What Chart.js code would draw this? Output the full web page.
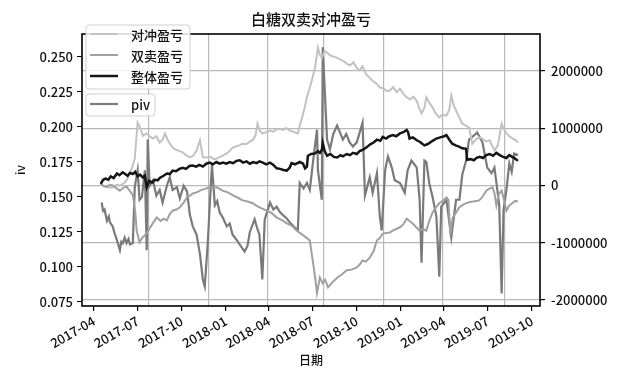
<!DOCTYPE html>
<html>
<head>
<meta charset="utf-8">
<script src="https://cdn.jsdelivr.net/npm/chart.js@4.4.1/dist/chart.umd.min.js"></script>
<style>
  html, body { margin: 0; padding: 0; background: #fff; }
</style>
</head>
<body>
<canvas id="myChart" width="620" height="376"></canvas>
<script>
// 对冲盈亏 (right axis)
const hedgeDates = ['2017-04-15','2017-04-22','2017-04-28','2017-05-04','2017-05-10','2017-05-18','2017-05-25','2017-06-04','2017-06-10','2017-06-15',
  '2017-06-20','2017-06-25','2017-07-01','2017-07-05','2017-07-09','2017-07-12','2017-07-20','2017-07-26','2017-08-02','2017-08-09',
  '2017-08-16','2017-08-22','2017-08-27','2017-09-02','2017-09-12','2017-09-20','2017-09-27','2017-10-03','2017-10-10','2017-10-18',
  '2017-10-25','2017-11-01','2017-11-08','2017-11-14','2017-11-22','2017-11-30','2017-12-07','2017-12-13','2017-12-20','2017-12-27',
  '2018-01-03','2018-01-09','2018-01-15','2018-01-22','2018-01-29','2018-02-05','2018-02-12','2018-02-19','2018-02-26','2018-03-04',
  '2018-03-08','2018-03-13','2018-03-18','2018-03-26','2018-04-03','2018-04-10','2018-04-16','2018-04-23','2018-04-30','2018-05-07',
  '2018-05-14','2018-05-21','2018-05-31','2018-06-09','2018-06-14','2018-06-19','2018-06-24','2018-06-29','2018-07-06','2018-07-12',
  '2018-07-16','2018-07-20','2018-07-26','2018-07-31','2018-08-07','2018-08-14','2018-08-21','2018-08-28','2018-09-04','2018-09-10',
  '2018-09-17','2018-09-24','2018-10-01','2018-10-07','2018-10-13','2018-10-20','2018-10-28','2018-11-04','2018-11-11','2018-11-18',
  '2018-11-25','2018-12-02','2018-12-09','2018-12-16','2018-12-23','2018-12-30',
  '2019-01-06','2019-01-13','2019-01-20','2019-01-27','2019-02-03','2019-02-08','2019-02-13','2019-02-19','2019-02-23','2019-03-01',
  '2019-03-08','2019-03-15','2019-03-22','2019-03-29','2019-04-06','2019-04-12','2019-04-16','2019-04-21','2019-04-26','2019-05-02',
  '2019-05-09','2019-05-16','2019-05-23','2019-05-30','2019-06-06','2019-06-13','2019-06-20','2019-06-27','2019-07-05','2019-07-10',
  '2019-07-15','2019-07-22','2019-07-30','2019-08-04','2019-08-09','2019-08-15','2019-08-22','2019-08-29','2019-09-02'];
const hedgeVals = [30000,-20000,0,-40000,-30000,10000,0,50000,120000,210000,
  330000,470000,1100000,1030000,940000,870000,910000,860000,820000,860000,
  750000,800000,910000,790000,660000,620000,600000,580000,530000,490000,
  520000,610000,790000,490000,490000,500000,460000,470000,500000,530000,
  560000,600000,660000,680000,700000,730000,720000,760000,790000,880000,
  1080000,950000,910000,930000,960000,940000,980000,990000,970000,1000000,
  960000,940000,910000,1190000,1350000,1540000,1680000,1830000,2060000,2410000,
  2280000,2230000,2350000,2320000,2270000,2250000,2230000,2200000,2170000,2130000,
  2100000,2150000,2050000,2010000,2080000,1950000,1880000,1820000,1780000,1710000,
  1700000,1650000,1660000,1720000,1630000,1690000,
  1600000,1540000,1500000,1550000,1480000,1350000,1260000,1360000,1540000,1450000,
  1360000,1250000,1190000,1240000,1220000,1330000,1570000,1400000,1310000,1200000,
  1080000,1050000,1010000,730000,800000,840000,820000,770000,790000,700000,
  610000,700000,1080000,980000,910000,860000,820000,790000,750000];

// 双卖盈亏 (right axis)
const shortDates = ['2017-04-15','2017-04-22','2017-04-28','2017-05-04','2017-05-10','2017-05-18','2017-05-25','2017-06-01','2017-06-08','2017-06-15',
  '2017-06-21','2017-06-26','2017-06-29','2017-07-05','2017-07-10','2017-07-16','2017-07-21','2017-07-26','2017-08-03','2017-08-10',
  '2017-08-18','2017-08-24','2017-08-31','2017-09-06','2017-09-12','2017-09-20','2017-09-27','2017-10-05','2017-10-12','2017-10-18',
  '2017-10-24','2017-11-01','2017-11-08','2017-11-18','2017-11-28','2017-12-06','2017-12-13','2017-12-19','2017-12-25',
  '2018-01-05','2018-01-15','2018-01-25','2018-02-05','2018-02-15','2018-02-26','2018-03-07','2018-03-17','2018-03-27','2018-04-06',
  '2018-04-17','2018-04-27','2018-05-08','2018-05-18','2018-05-29','2018-06-08','2018-06-19','2018-06-25','2018-07-02','2018-07-06',
  '2018-07-10','2018-07-16','2018-07-22','2018-07-27','2018-08-02','2018-08-10','2018-08-21','2018-08-30','2018-09-10','2018-09-20',
  '2018-10-01','2018-10-07','2018-10-13','2018-10-20','2018-10-28','2018-11-05','2018-11-12','2018-11-18','2018-11-24','2018-12-02',
  '2018-12-09','2018-12-15','2018-12-22','2018-12-30',
  '2019-01-06','2019-01-13','2019-01-19','2019-01-25','2019-02-01','2019-02-09','2019-02-16','2019-02-23','2019-03-01','2019-03-08',
  '2019-03-15','2019-03-22','2019-03-29','2019-04-06','2019-04-10','2019-04-14','2019-04-19','2019-04-26','2019-05-03','2019-05-10',
  '2019-05-17','2019-05-25','2019-06-01','2019-06-13','2019-06-20','2019-06-28','2019-07-04','2019-07-11','2019-07-15','2019-07-19',
  '2019-07-24','2019-07-30','2019-08-04','2019-08-09','2019-08-15','2019-08-21','2019-08-27','2019-09-02'];
const shortVals = [30000,-10000,-30000,10000,0,-50000,-90000,-40000,-20000,-100000,
  -170000,-450000,-790000,-990000,-920000,-870000,-820000,-750000,-640000,-560000,
  -620000,-580000,-610000,-500000,-440000,-420000,-380000,-300000,-210000,-180000,
  -140000,-120000,-90000,-60000,-30000,-40000,-30000,-60000,-90000,
  -120000,-170000,-210000,-260000,-280000,-310000,-360000,-400000,-440000,-480000,
  -560000,-600000,-660000,-700000,-790000,-850000,-920000,-960000,-1360000,-1600000,
  -1880000,-1610000,-1710000,-1650000,-1780000,-1700000,-1610000,-1560000,-1480000,-1470000,
  -1430000,-1380000,-1310000,-1330000,-1260000,-1150000,-960000,-920000,-840000,-830000,
  -820000,-790000,-760000,-730000,
  -680000,-580000,-620000,-660000,-720000,-790000,-760000,-790000,-620000,-470000,
  -380000,-310000,-270000,-210000,-250000,-870000,-560000,-470000,-380000,-340000,
  -310000,-290000,-280000,-260000,-200000,-90000,-60000,-30000,-130000,-350000,
  -150000,-90000,-250000,-440000,-350000,-310000,-270000,-280000];

// 整体盈亏 (right axis)
const totalDates = ['2017-04-15','2017-04-20','2017-04-25','2017-05-01','2017-05-06','2017-05-12','2017-05-19','2017-05-24','2017-05-31','2017-06-05',
  '2017-06-10','2017-06-15','2017-06-21','2017-06-26','2017-07-01','2017-07-06','2017-07-12','2017-07-16','2017-07-20','2017-07-25',
  '2017-07-31','2017-08-06','2017-08-12','2017-08-16','2017-08-24','2017-08-31','2017-09-06','2017-09-12','2017-09-19','2017-09-26',
  '2017-10-03','2017-10-10','2017-10-17','2017-10-24','2017-10-31','2017-11-07','2017-11-14','2017-11-21','2017-11-28','2017-12-05',
  '2017-12-12','2017-12-19','2017-12-26',
  '2018-01-02','2018-01-09','2018-01-16','2018-01-23','2018-01-30','2018-02-06','2018-02-13','2018-02-20','2018-02-27','2018-03-06',
  '2018-03-12','2018-03-19','2018-03-26','2018-04-03','2018-04-10','2018-04-17','2018-04-24','2018-05-01','2018-05-08','2018-05-14',
  '2018-05-18','2018-05-25','2018-06-04','2018-06-11','2018-06-15','2018-06-19','2018-06-21','2018-06-28','2018-07-06','2018-07-12',
  '2018-07-16','2018-07-20','2018-07-22','2018-07-26','2018-07-31','2018-08-07','2018-08-14','2018-08-21','2018-08-28','2018-09-02',
  '2018-09-10','2018-09-17','2018-09-23','2018-10-01','2018-10-07','2018-10-15','2018-10-22','2018-10-29','2018-11-05','2018-11-12',
  '2018-11-19','2018-11-24','2018-12-01','2018-12-08','2018-12-15','2018-12-22','2018-12-30',
  '2019-01-06','2019-01-13','2019-01-16','2019-01-19','2019-01-26','2019-02-03','2019-02-10','2019-02-19','2019-02-25','2019-03-01',
  '2019-03-08','2019-03-16','2019-03-24','2019-04-01','2019-04-06','2019-04-12','2019-04-18','2019-04-25','2019-05-02','2019-05-09',
  '2019-05-17','2019-05-19','2019-05-26','2019-06-02','2019-06-07','2019-06-14','2019-06-21','2019-06-28','2019-07-05','2019-07-12',
  '2019-07-19','2019-07-26','2019-08-02','2019-08-09','2019-08-15','2019-08-21','2019-08-27','2019-09-02'];
const totalVals = [30000,100000,120000,100000,160000,130000,210000,180000,230000,200000,
  170000,220000,200000,240000,160000,190000,140000,170000,-30000,80000,
  50000,100000,90000,130000,170000,210000,200000,260000,250000,290000,
  310000,290000,340000,350000,330000,360000,330000,380000,400000,370000,
  410000,380000,400000,
  380000,410000,390000,430000,440000,400000,420000,380000,410000,390000,
  420000,400000,370000,400000,360000,300000,290000,270000,260000,310000,
  390000,370000,410000,380000,300000,330000,520000,550000,560000,600000,
  570000,620000,740000,600000,520000,550000,500000,490000,530000,510000,
  550000,530000,570000,550000,600000,630000,670000,720000,750000,800000,
  780000,850000,820000,860000,880000,860000,910000,
  930000,970000,930000,820000,840000,790000,760000,700000,720000,740000,
  780000,820000,840000,860000,880000,800000,730000,700000,680000,650000,
  640000,450000,460000,440000,480000,500000,480000,530000,550000,520000,
  570000,530000,500000,480000,530000,500000,470000,430000];

// piv (left axis)
const pivDates = ['2017-04-17','2017-04-20','2017-04-23','2017-04-28','2017-05-02','2017-05-04','2017-05-10','2017-05-14','2017-05-19','2017-05-25',
  '2017-05-28','2017-05-31','2017-06-04','2017-06-08','2017-06-12','2017-06-15','2017-06-21','2017-06-25','2017-07-01','2017-07-05',
  '2017-07-10','2017-07-16','2017-07-20','2017-07-22','2017-07-26','2017-08-02','2017-08-09','2017-08-16','2017-08-22','2017-08-31',
  '2017-09-06','2017-09-12','2017-09-21','2017-09-27','2017-10-05','2017-10-12','2017-10-18','2017-10-24','2017-11-01','2017-11-08',
  '2017-11-14','2017-11-18','2017-11-24','2017-12-03','2017-12-09','2017-12-14','2017-12-19','2017-12-26',
  '2018-01-03','2018-01-09','2018-01-15','2018-01-22','2018-01-30','2018-02-09','2018-02-15','2018-02-20','2018-03-02','2018-03-07',
  '2018-03-12','2018-03-18','2018-03-23','2018-04-03','2018-04-10','2018-04-17','2018-04-24','2018-04-30','2018-05-07','2018-05-14',
  '2018-05-22','2018-05-31','2018-06-04','2018-06-12','2018-06-19','2018-06-25','2018-07-02','2018-07-10','2018-07-12','2018-07-20',
  '2018-07-22','2018-07-31','2018-08-06','2018-08-13','2018-08-21','2018-09-02','2018-09-09','2018-09-16','2018-09-23','2018-10-01',
  '2018-10-13','2018-10-18','2018-10-28','2018-11-03','2018-11-12','2018-11-18','2018-11-22','2018-11-29','2018-12-05','2018-12-13',
  '2018-12-19','2018-12-30',
  '2019-01-09','2019-01-15','2019-01-23','2019-02-03','2019-02-09','2019-02-13','2019-02-19','2019-02-23','2019-03-01','2019-03-08',
  '2019-03-16','2019-03-22','2019-03-26','2019-04-06','2019-04-16','2019-04-26','2019-05-03','2019-05-09','2019-05-17','2019-05-23',
  '2019-05-30','2019-06-09','2019-06-20','2019-06-30','2019-07-09','2019-07-15','2019-07-21','2019-07-25','2019-07-30','2019-08-03',
  '2019-08-09','2019-08-15','2019-08-20','2019-08-25','2019-09-02'];
const pivVals = [0.146,0.140,0.141,0.133,0.136,0.132,0.129,0.124,0.119,0.112,
  0.118,0.117,0.121,0.117,0.120,0.116,0.117,0.157,0.169,0.148,
  0.150,0.169,0.112,0.191,0.158,0.162,0.151,0.155,0.146,0.158,
  0.164,0.155,0.157,0.149,0.158,0.154,0.137,0.129,0.123,0.109,
  0.091,0.086,0.116,0.173,0.144,0.147,0.139,0.135,
  0.129,0.131,0.123,0.120,0.116,0.111,0.115,0.125,0.134,0.128,
  0.123,0.091,0.134,0.146,0.141,0.143,0.139,0.137,0.135,0.132,
  0.129,0.126,0.160,0.156,0.160,0.155,0.176,0.198,0.169,0.148,
  0.257,0.191,0.184,0.195,0.201,0.191,0.195,0.189,0.186,0.189,
  0.203,0.151,0.164,0.153,0.167,0.136,0.126,0.169,0.179,0.171,
  0.162,0.160,
  0.153,0.169,0.176,0.171,0.148,0.103,0.176,0.175,0.160,0.150,
  0.136,0.093,0.143,0.148,0.121,0.148,0.148,0.166,0.176,0.191,
  0.193,0.196,0.189,0.171,0.167,0.171,0.155,0.144,0.081,0.141,
  0.155,0.174,0.168,0.181,0.180];

// ticks
const monthTicks = ['2017-04','2017-07','2017-10','2018-01','2018-04','2018-07','2018-10','2019-01','2019-04','2019-07','2019-10'];
const gridDates = ['2017-07-24','2017-11-25','2018-03-28','2018-07-24','2018-11-26','2019-03-29','2019-08-06'];
const ivTicks = [0.075, 0.1, 0.125, 0.15, 0.175, 0.2, 0.225, 0.25];
const pnlTicks = [-2000000, -1000000, 0, 1000000, 2000000];

const FONT = "'Noto Sans CJK SC', 'DejaVu Sans', sans-serif";
const GRID = '#b8b8b8';

function toDay(s) {
  const p = s.split('-').map(Number);
  return Date.UTC(p[0], p[1] - 1, p[2] || 1) / 86400000;
}
function pts(dates, vals) {
  return dates.map((d, i) => ({ x: toDay(d), y: vals[i] }));
}

const CHART = document.getElementById('myChart');

const decor = {
  id: 'decor',
  afterDatasetsDraw(chart) {
    const ctx = chart.ctx, a = chart.chartArea;
    ctx.save();
    ctx.strokeStyle = '#000';
    ctx.lineWidth = 1.6;
    ctx.strokeRect(a.left, a.top, a.right - a.left, a.bottom - a.top);
    ctx.restore();
  },
  afterDraw(chart) {
    const ctx = chart.ctx, a = chart.chartArea;
    const ds = chart.data.datasets;
    ctx.save();
    ctx.fillStyle = '#111';
    ctx.textAlign = 'center';
    ctx.textBaseline = 'middle';
    ctx.font = '500 15px ' + FONT;
    ctx.fillText('白糖双卖对冲盈亏', (a.left + a.right) / 2, 19);
    ctx.font = '500 12px ' + FONT;
    ctx.fillText('日期', (a.left + a.right) / 2, 360);
    ctx.save();
    ctx.translate(20, 170);
    ctx.rotate(-Math.PI / 2);
    ctx.fillText('iv', 0, 0);
    ctx.restore();

    // two legend boxes, as in the original
    function box(x, y, w, h) {
      ctx.beginPath();
      ctx.roundRect(x, y, w, h, 3);
      ctx.fillStyle = 'rgba(255,255,255,0.85)';
      ctx.fill();
      ctx.strokeStyle = '#cfcfcf';
      ctx.lineWidth = 1;
      ctx.stroke();
    }
    function entry(d, y) {
      ctx.beginPath();
      ctx.moveTo(90, y);
      ctx.lineTo(118, y);
      ctx.strokeStyle = d.borderColor;
      ctx.lineWidth = d.borderWidth;
      ctx.stroke();
      ctx.fillStyle = '#111';
      ctx.textAlign = 'left';
      ctx.font = '500 13px ' + FONT;
      ctx.fillText(d.label, 131, y + 1);
    }
    box(86, 25, 104, 64);
    entry(ds[0], 34);
    entry(ds[1], 55);
    entry(ds[2], 76);
    box(86, 94, 69, 22);
    entry(ds[3], 104);
    ctx.restore();
  }
};

new Chart(CHART, {
  type: 'line',
  data: {
    datasets: [{
      label: '对冲盈亏',
      data: pts(hedgeDates, hedgeVals),
      yAxisID: 'y2',
      borderColor: '#c2c2c2',
      borderWidth: 2,
      order: 2
    }, {
      label: '双卖盈亏',
      data: pts(shortDates, shortVals),
      yAxisID: 'y2',
      borderColor: '#a0a0a0',
      borderWidth: 2,
      order: 1
    }, {
      label: '整体盈亏',
      data: pts(totalDates, totalVals),
      yAxisID: 'y2',
      borderColor: '#151515',
      borderWidth: 2.5,
      order: 0
    }, {
      label: 'piv',
      data: pts(pivDates, pivVals),
      yAxisID: 'y',
      borderColor: '#7a7a7a',
      borderWidth: 2.2,
      order: 3
    }]
  },
  options: {
    responsive: false,
    animation: false,
    devicePixelRatio: 1,
    layout: { padding: { top: 34, left: 0, right: 0, bottom: 0 } },
    elements: { point: { radius: 0 }, line: { tension: 0, fill: false } },
    plugins: { legend: { display: false }, tooltip: { enabled: false }, title: { display: false } },
    scales: {
      x: {
        type: 'linear',
        min: toDay('2017-03-07'),
        max: toDay('2019-10-18'),
        afterFit(s) { s.height = 70; },
        afterBuildTicks(s) {
          const t = monthTicks.map(m => ({ value: toDay(m + '-01'), name: m }))
            .concat(gridDates.map(g => ({ value: toDay(g), g: true })));
          t.sort((p, q) => p.value - q.value);
          s.ticks = t;
        },
        border: { display: false },
        grid: {
          color: c => (c.tick && c.tick.g) ? GRID : 'rgba(0,0,0,0)',
          tickColor: c => (c.tick && c.tick.g) ? 'rgba(0,0,0,0)' : '#000',
          lineWidth: 1.2,
          tickLength: 5
        },
        ticks: {
          autoSkip: false,
          minRotation: 30,
          maxRotation: 30,
          padding: 2,
          color: '#111',
          font: { family: FONT, size: 13, weight: 500 },
          callback: (v, i, t) => t[i].g ? '' : t[i].name
        }
      },
      y: {
        position: 'left',
        min: 0.0721,
        max: 0.2664,
        afterFit(s) { s.width = 82; },
        afterBuildTicks(s) { s.ticks = ivTicks.map(v => ({ value: v })); },
        border: { display: false },
        grid: { drawOnChartArea: false, tickColor: '#000', tickLength: 5 },
        ticks: {
          padding: 4,
          color: '#111',
          font: { family: FONT, size: 13, weight: 500 },
          callback: v => v.toFixed(3)
        }
      },
      y2: {
        position: 'right',
        min: -2105000,
        max: 2646000,
        afterFit(s) { s.width = 80; },
        afterBuildTicks(s) { s.ticks = pnlTicks.map(v => ({ value: v })); },
        border: { display: false },
        grid: { color: GRID, lineWidth: 1.2, tickColor: '#000', tickLength: 5 },
        ticks: {
          padding: 6,
          color: '#111',
          font: { family: FONT, size: 13, weight: 500 },
          callback: v => String(v)
        }
      }
    }
  },
  plugins: [decor]
});
</script>
</body>
</html>
